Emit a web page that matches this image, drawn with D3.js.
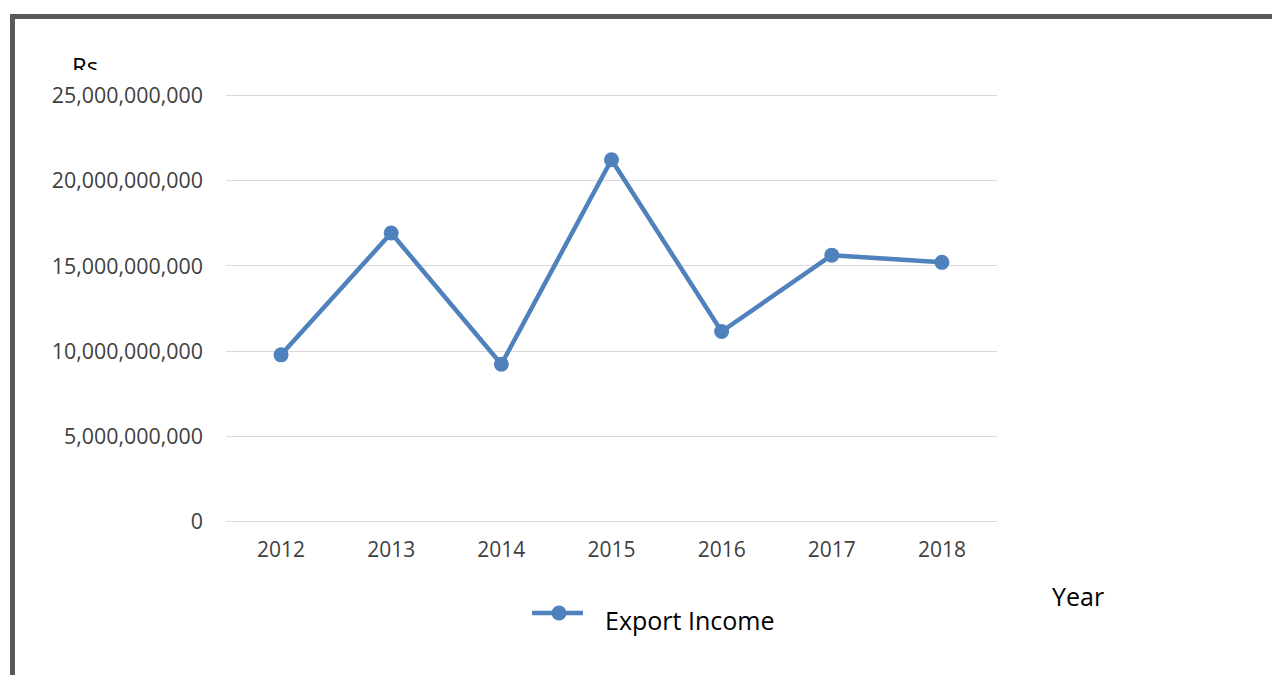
<!DOCTYPE html>
<html>
<head>
<meta charset="utf-8">
<script src="https://cdn.jsdelivr.net/npm/d3@7"></script>
<style>
html,body{margin:0;padding:0;background:#fff;}
svg{display:block;}
</style>
</head>
<body>
<svg id="chart" width="1272" height="675"></svg>
<script>
const years = ["2012","2013","2014","2015","2016","2017","2018"];
const exportIncome = [9.75e9, 16.9e9, 9.2e9, 21.2e9, 11.12e9, 15.6e9, 15.18e9];
const yTicks = [0, 5e9, 10e9, 15e9, 20e9, 25e9];
const seriesName = "Export Income";
const yTitle = "Rs";
const xTitle = "Year";

const svg = d3.select("#chart");
const W = 1272, H = 675;
const font = "'Open Sans', sans-serif";
const lineColor = "#4f81bd";

// outer frame (top + left edges visible)
svg.append("path")
  .attr("d", `M12.5,${H} L12.5,16.5 L${W},16.5`)
  .attr("fill", "none")
  .attr("stroke", "#595959")
  .attr("stroke-width", 5);

const x = d3.scaleBand().domain(years).range([226, 997]).padding(0);
const y = d3.scaleLinear().domain([0, 25e9]).range([521, 95]);

// gridlines
svg.append("g").selectAll("line").data(yTicks).join("line")
  .attr("x1", 226).attr("x2", 997)
  .attr("y1", d => Math.round(y(d)) + 0.5).attr("y2", d => Math.round(y(d)) + 0.5)
  .attr("stroke", "#d9d9d9").attr("stroke-width", 1);

// y axis labels
const yAxis = d3.axisLeft(y).tickValues(yTicks).tickSize(0).tickPadding(0)
  .tickFormat(d3.format(","));
const gy = svg.append("g").attr("transform", "translate(203,0)").call(yAxis);
gy.select(".domain").remove();
gy.selectAll("text").attr("font-family", font).attr("font-size", 21.4)
  .attr("fill", "#404040").attr("dy", "0.36em");

// x axis labels
const xAxis = d3.axisBottom(x).tickSize(0).tickPadding(0);
const gx = svg.append("g").attr("transform", "translate(0,541)").call(xAxis);
gx.select(".domain").remove();
gx.selectAll("text").attr("font-family", font).attr("font-size", 21)
  .attr("fill", "#404040").attr("dy", "0.76em");

const cx = d => x(d) + x.bandwidth() / 2;
const data = years.map((yr, i) => ({yr, v: exportIncome[i]}));

// line
svg.append("path").datum(data)
  .attr("fill", "none").attr("stroke", lineColor).attr("stroke-width", 4.5)
  .attr("stroke-linejoin", "round")
  .attr("d", d3.line().x(d => cx(d.yr)).y(d => y(d.v)));

svg.append("g").selectAll("circle").data(data).join("circle")
  .attr("cx", d => cx(d.yr)).attr("cy", d => y(d.v)).attr("r", 7.5)
  .attr("fill", lineColor);

// y title (clipped as in reference)
svg.append("clipPath").attr("id", "rsclip")
  .append("rect").attr("x", 0).attr("y", 0).attr("width", 200).attr("height", 70);
svg.append("text").attr("clip-path", "url(#rsclip)")
  .attr("x", 72).attr("y", 75)
  .attr("font-family", font).attr("font-size", 24).attr("fill", "#000")
  .text(yTitle);

// x title
svg.append("text").attr("x", 1052).attr("y", 606)
  .attr("font-family", font).attr("font-size", 25).attr("fill", "#000")
  .text(xTitle);

// legend
const lg = svg.append("g");
lg.append("line").attr("x1", 532).attr("x2", 583).attr("y1", 613).attr("y2", 613)
  .attr("stroke", lineColor).attr("stroke-width", 4.5);
lg.append("circle").attr("cx", 559).attr("cy", 613).attr("r", 7.5).attr("fill", lineColor);
lg.append("text").attr("x", 605).attr("y", 630)
  .attr("font-family", font).attr("font-size", 25).attr("fill", "#000")
  .text(seriesName);
</script>
</body>
</html>
